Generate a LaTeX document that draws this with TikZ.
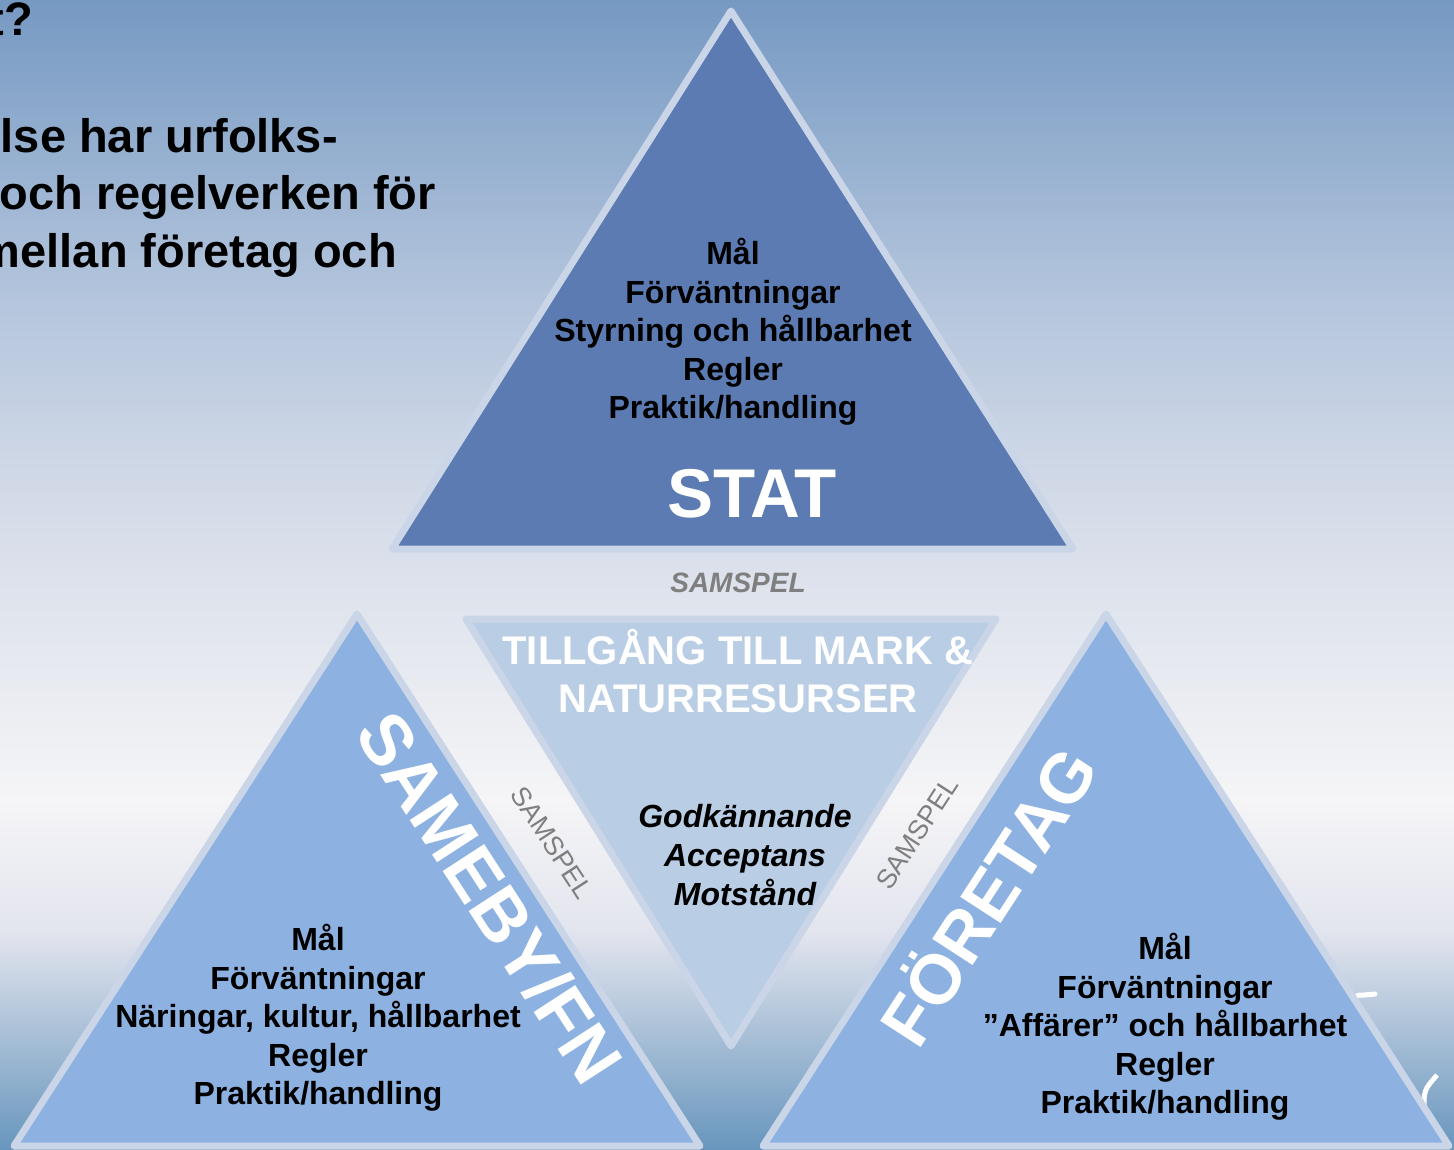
\documentclass[tikz,border=0pt]{standalone}
\usepackage{fontspec}
\setmainfont{Liberation Sans}
\definecolor{bgtop}{HTML}{7699C2}
\definecolor{bga}{HTML}{B2C4DC}
\definecolor{bgb}{HTML}{D4DBE8}
\definecolor{bgc}{HTML}{F5F5F7}
\definecolor{bgd}{HTML}{E3E5EE}
\definecolor{bgbot}{HTML}{6896BD}
\definecolor{statfill}{HTML}{5B7BB2}
\definecolor{sidefill}{HTML}{8DB2E2}
\definecolor{midfill}{HTML}{B9CDE5}
\definecolor{triline}{HTML}{CAD6E8}
\definecolor{samgray}{HTML}{7F7F7F}
\pgfdeclareverticalshading{slidebg}{100bp}{color(0bp)=(bgbot); color(25bp)=(bgbot); color(34.5bp)=(bgd); color(40.2bp)=(bgc); color(53.2bp)=(bgb); color(62.4bp)=(bga); color(75bp)=(bgtop); color(100bp)=(bgtop)}

\begin{document}
\begin{tikzpicture}[x=1pt,y=-1pt,line join=round,
  tri/.style={draw=triline,line width=7pt},
  txt/.style={inner sep=0pt,align=center,font=\fontsize{32}{38.6}\selectfont\bfseries},
  head/.style={inner sep=0pt,text=white,font=\fontsize{72}{80}\selectfont\bfseries},
  samspel/.style={inner sep=0pt,text=samgray,font=\fontsize{27}{30}\selectfont}]
\useasboundingbox (0,0) rectangle (1454,1149);
\clip (0,0) rectangle (1454,1149);
\shade[shading=slidebg] (0,0) rectangle (1454,1149);

% heading, cut off by the left edge
\begin{scope}[every node/.style={anchor=base east,inner sep=0pt,font=\fontsize{47}{57}\selectfont\bfseries}]
\node (q1) at (33,35) {t?};
\node (q2) at (338,152) {lse har urfolks-};
\node (q3) at (436,209) {och regelverken för};
\node (q4) at (397,267) {mellan företag och};
\end{scope}

\draw[white,line width=5pt,line cap=round] (1354,1001) .. controls (1356,995) .. (1364,995) -- (1375,994);
\draw[white,line width=5pt] (1437,1075) .. controls (1424,1090) .. (1424,1110);

% the four triangles
\draw[tri,fill=statfill] (731,11) -- (392,549) -- (1073,549) -- cycle;
\draw[tri,fill=midfill] (466,619) -- (996,619) -- (731,1046) -- cycle;
\draw[tri,fill=sidefill] (357,614) -- (14,1146) -- (700,1146) -- cycle;
\draw[tri,fill=sidefill] (1106,614) -- (763,1146) -- (1449,1146) -- cycle;

\node[head,font=\fontsize{69}{72}\selectfont\bfseries] (stat) at (752,494) {STAT};
\node[head,rotate=-57] (sameby) at (490,897) {SAMEBY/FN};
\node[head,font=\fontsize{70}{78}\selectfont\bfseries,rotate=57] (foretag) at (985,894) {FÖRETAG};

\node[samspel,font=\fontsize{28}{30}\selectfont\bfseries\itshape] (sam1) at (738,583) {SAMSPEL};
\node[samspel,rotate=-57] (sam2) at (552,843) {SAMSPEL};
\node[samspel,rotate=57] (sam3) at (917,833) {SAMSPEL};

\node[txt,text=white,font=\fontsize{40}{48}\selectfont\bfseries] (access) at (738,671) {TILLGÅNG TILL MARK \&\\NATURRESURSER};
\node[txt,font=\fontsize{32}{38.6}\selectfont\bfseries\itshape] (accept) at (745,855) {Godkännande\\Acceptans\\Motstånd};

\node[txt] (statlist) at (733,332) {Mål\\Förväntningar\\Styrning och hållbarhet\\Regler\\Praktik/handling};
\node[txt] (samelist) at (318,1018) {Mål\\Förväntningar\\Näringar, kultur, hållbarhet\\Regler\\Praktik/handling};
\node[txt] (firmlist) at (1165,1027) {Mål\\Förväntningar\\”Affärer” och hållbarhet\\Regler\\Praktik/handling};
\end{tikzpicture}
\end{document}
